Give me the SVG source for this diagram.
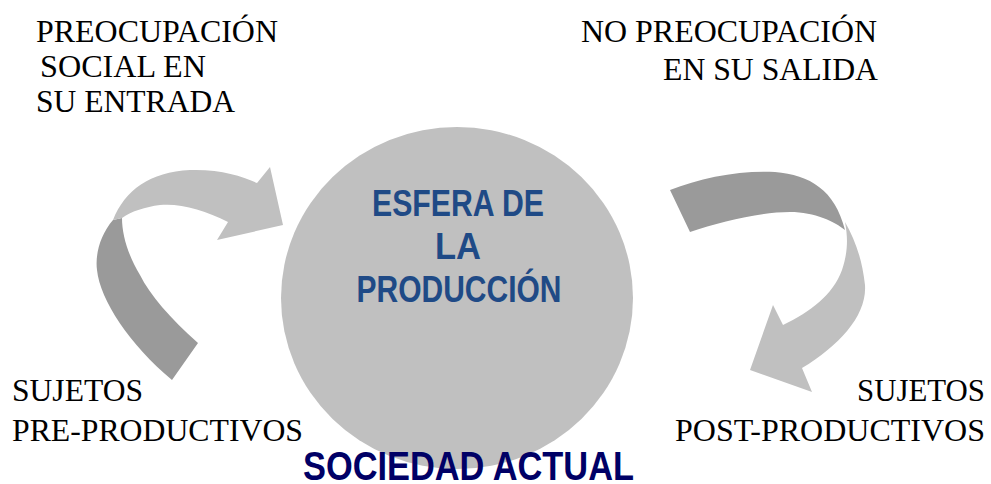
<svg xmlns="http://www.w3.org/2000/svg" width="991" height="484" viewBox="0 0 991 484">
<style>
.lbl{font-family:"Liberation Serif","Times New Roman",serif;font-size:32px;fill:#000}
.ctr{font-family:"Liberation Sans",Arial,sans-serif;font-weight:bold;font-size:36px;fill:#1f4a86;text-anchor:middle}
.ttl{font-family:"Liberation Sans",Arial,sans-serif;font-weight:bold;font-size:40px;fill:#000066}
.light{fill:#c0c0c0}
.dark{fill:#9a9a9a}
</style>
<rect width="991" height="484" fill="#fff"/>
<g id="connectors">
<g id="arrow-left">
<path class="dark" d="M113,220 C100,235 95,255 97,270 C100,300 130,345 172,380 L198,343 C170,318 150,295 140,275 C128,255 122,235 122,218 Z"/>
<path class="light" d="M113,220 C125,190 150,172 190,170 C220,169 242,176 257,183 L270,167 L283,225 L217,240 L228,222 C205,210 180,203 160,205 C145,207 132,211 122,218 Z"/>
</g>
<g id="arrow-right">
<path class="dark" d="M670,190 C700,178 740,170 775,172 C810,175 835,190 845,230 C835,222 815,212 790,212 C760,212 720,222 690,232 Z"/>
<path class="light" d="M845,222 C855,240 862,258 865,285 C867,315 840,345 802,368 L812,392 L750,370 L773,305 L783,325 C810,312 833,295 842,270 C848,252 848,238 845,222 Z"/>
</g>
</g>
<g id="sphere">
<ellipse cx="457" cy="298" rx="176" ry="171" fill="#c0c0c0"/>
<text class="ctr" x="458" y="216" textLength="172" lengthAdjust="spacingAndGlyphs">ESFERA DE</text>
<text class="ctr" x="458" y="259" textLength="46" lengthAdjust="spacingAndGlyphs">LA</text>
<text class="ctr" x="459" y="302" textLength="205" lengthAdjust="spacingAndGlyphs">PRODUCCIÓN</text>
</g>
<g id="label-entrada">
<text class="lbl" x="36" y="42" textLength="242" lengthAdjust="spacingAndGlyphs">PREOCUPACIÓN</text>
<text class="lbl" x="40" y="77" textLength="166" lengthAdjust="spacingAndGlyphs">SOCIAL EN</text>
<text class="lbl" x="36" y="112" textLength="199" lengthAdjust="spacingAndGlyphs">SU ENTRADA</text>
</g>
<g id="label-salida">
<text class="lbl" x="581" y="42" textLength="296" lengthAdjust="spacingAndGlyphs">NO PREOCUPACIÓN</text>
<text class="lbl" x="663" y="80" textLength="215" lengthAdjust="spacingAndGlyphs">EN SU SALIDA</text>
</g>
<g id="label-pre">
<text class="lbl" x="12" y="401" textLength="131" lengthAdjust="spacingAndGlyphs">SUJETOS</text>
<text class="lbl" x="12" y="441" textLength="291" lengthAdjust="spacingAndGlyphs">PRE-PRODUCTIVOS</text>
</g>
<g id="label-post">
<text class="lbl" x="857" y="401" textLength="128" lengthAdjust="spacingAndGlyphs">SUJETOS</text>
<text class="lbl" x="675" y="441" textLength="310" lengthAdjust="spacingAndGlyphs">POST-PRODUCTIVOS</text>
</g>
<g id="title">
<text class="ttl" x="303" y="480" textLength="331" lengthAdjust="spacingAndGlyphs">SOCIEDAD ACTUAL</text>
</g>
</svg>
